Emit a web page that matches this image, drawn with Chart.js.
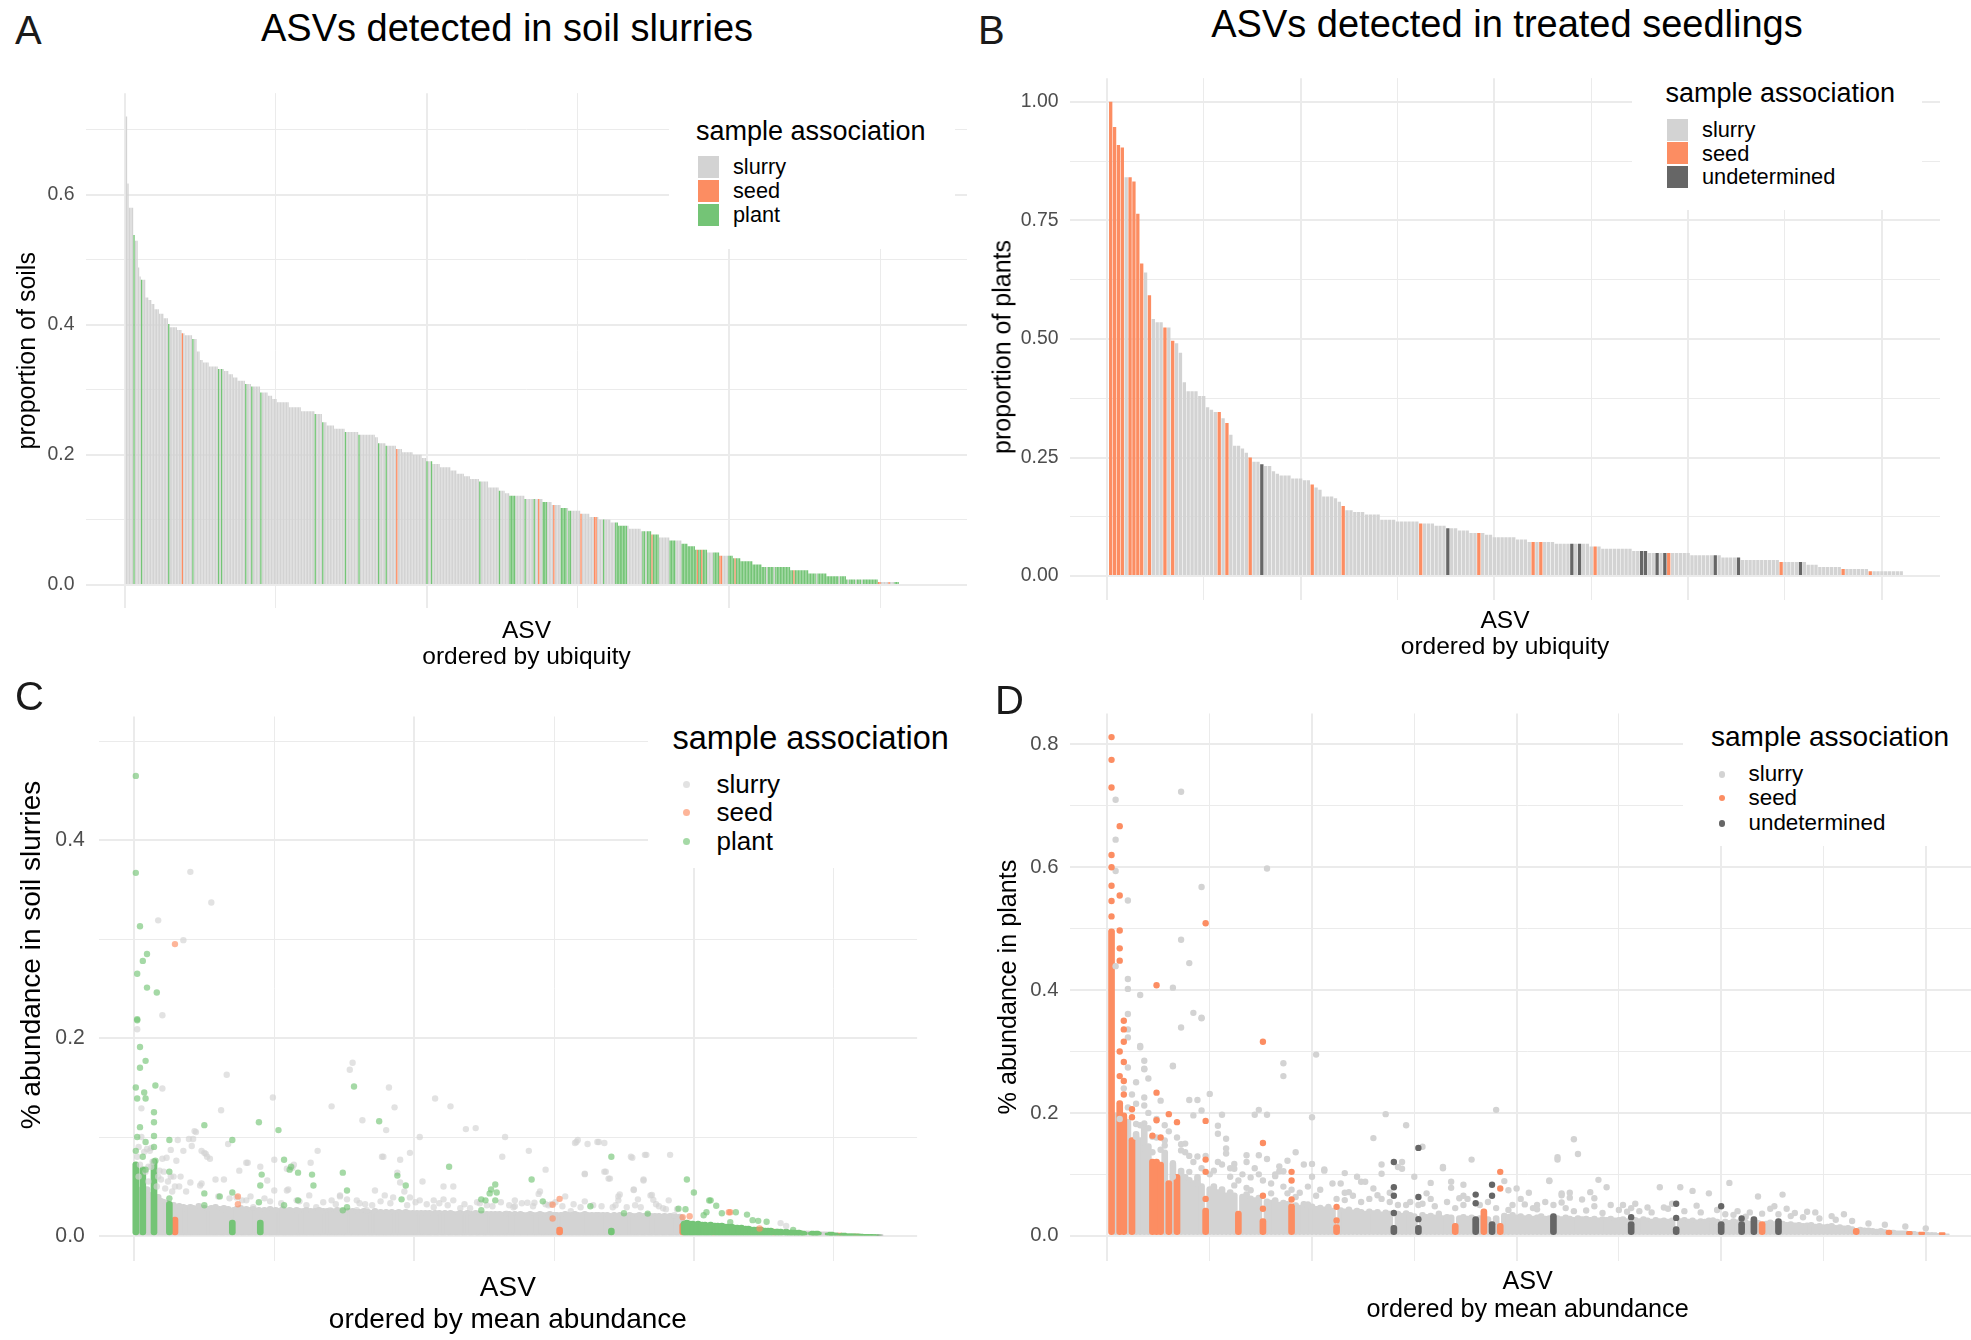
<!DOCTYPE html>
<html>
<head>
<meta charset="utf-8">
<title>ASVs detected in soil slurries and treated seedlings</title>
<script src="https://cdn.jsdelivr.net/npm/chart.js@4.4.1/dist/chart.umd.min.js"></script>
<style>
  html, body { margin: 0; padding: 0; background: #fff; overflow: hidden; }
  body { position: relative; width: 1971px; height: 1340px; font-family: "Liberation Sans", Arial, Helvetica, sans-serif; }
  canvas { position: absolute; }
  .t { position: absolute; white-space: nowrap; line-height: 1; color: #000; }
  .vt { position: absolute; white-space: nowrap; line-height: 1; color: #000; transform: translate(-50%, -50%) rotate(-90deg); }
  .letter { position: absolute; line-height: 1; font-size: 40px; color: #1a1a1a; }
  .box { position: absolute; background: #fff; }
  .key { position: absolute; width: 21px; height: 22px; }
  .dot { position: absolute; border-radius: 50%; }
</style>
</head>
<body>
<canvas id="chartA" width="985" height="610" style="left:0;top:70px"></canvas>
<canvas id="chartB" width="986" height="620" style="left:985px;top:55px"></canvas>
<canvas id="chartC" width="985" height="650" style="left:0;top:690px"></canvas>
<canvas id="chartD" width="1010" height="650" style="left:985px;top:690px"></canvas>

<div class="letter" style="left:15px;top:10px">A</div>
<div class="letter" style="left:978px;top:10px">B</div>
<div class="letter" style="left:15px;top:676px">C</div>
<div class="letter" style="left:995px;top:680px">D</div>

<div class="t" style="left:507px;top:9px;font-size:38px;transform:translateX(-50%)">ASVs detected in soil slurries</div>
<div class="t" style="left:1507px;top:5px;font-size:38px;transform:translateX(-50%)">ASVs detected in treated seedlings</div>

<!-- y-axis titles of B and C sit off the panel centre in the original -->
<div class="vt" style="left:1002px;top:346.6px;font-size:25px">proportion of plants</div>
<div class="vt" style="left:31.4px;top:955.3px;font-size:28px">% abundance in soil slurries</div>

<!-- legend A -->
<div class="box" style="left:669px;top:80px;width:286px;height:169px"></div>
<div class="t" style="left:696px;top:117.5px;font-size:27px">sample association</div>
<div class="key" style="left:698px;top:156px;background:#d3d3d3"></div>
<div class="key" style="left:698px;top:180px;background:#fc8d62"></div>
<div class="key" style="left:698px;top:204px;background:#74c476"></div>
<div class="t" style="left:733px;top:156.3px;font-size:21.7px">slurry</div>
<div class="t" style="left:733px;top:180.3px;font-size:21.7px">seed</div>
<div class="t" style="left:733px;top:204.2px;font-size:21.7px">plant</div>

<!-- legend B -->
<div class="box" style="left:1632px;top:60px;width:290px;height:150px"></div>
<div class="t" style="left:1665.5px;top:79.5px;font-size:27px">sample association</div>
<div class="key" style="left:1667px;top:118.5px;background:#d3d3d3"></div>
<div class="key" style="left:1667px;top:142.4px;background:#fc8d62"></div>
<div class="key" style="left:1667px;top:166.2px;background:#666666"></div>
<div class="t" style="left:1702px;top:118.6px;font-size:21.8px">slurry</div>
<div class="t" style="left:1702px;top:142.5px;font-size:21.8px">seed</div>
<div class="t" style="left:1702px;top:166.3px;font-size:21.8px">undetermined</div>

<!-- legend C -->
<div class="box" style="left:648px;top:700px;width:320px;height:168px"></div>
<div class="t" style="left:672.5px;top:721.8px;font-size:32.5px">sample association</div>
<div class="dot" style="left:682.5px;top:780.9px;width:7px;height:7px;background:rgba(211,211,211,0.65)"></div>
<div class="dot" style="left:682.5px;top:808.5px;width:7px;height:7px;background:rgba(252,141,98,0.65)"></div>
<div class="dot" style="left:682.5px;top:837.5px;width:7px;height:7px;background:rgba(116,196,118,0.65)"></div>
<div class="t" style="left:716.5px;top:771.4px;font-size:26px">slurry</div>
<div class="t" style="left:716.5px;top:799px;font-size:26px">seed</div>
<div class="t" style="left:716.5px;top:828px;font-size:26px">plant</div>

<!-- legend D -->
<div class="box" style="left:1683px;top:700px;width:288px;height:146px"></div>
<div class="t" style="left:1711px;top:722.6px;font-size:28px">sample association</div>
<div class="dot" style="left:1718.7px;top:771px;width:6.6px;height:6.6px;background:#d3d3d3"></div>
<div class="dot" style="left:1718.7px;top:794.9px;width:6.6px;height:6.6px;background:#fc8d62"></div>
<div class="dot" style="left:1718.7px;top:820px;width:6.6px;height:6.6px;background:#666666"></div>
<div class="t" style="left:1748.5px;top:763.1px;font-size:22.4px">slurry</div>
<div class="t" style="left:1748.5px;top:787px;font-size:22.4px">seed</div>
<div class="t" style="left:1748.5px;top:812.1px;font-size:22.4px">undetermined</div>

<script>
'use strict';

// class codes: s = slurry, e = seed, p = plant, u = undetermined
const COLORS = { s: '#d3d3d3', e: '#fc8d62', p: '#74c476', u: '#666666' };
const SOFT = { s: 'rgba(211,211,211,0.65)', e: 'rgba(252,141,98,0.65)', p: 'rgba(116,196,118,0.65)' };
const NAMES = { s: 'slurry', e: 'seed', p: 'plant', u: 'undetermined' };

// ---- panel A: proportion of soils, one bar per ASV (value, classes of consecutive ASVs)
const soilPropRuns = [
  [.72,'s'],[.617,'s'],[.58,'sss'],[.538,'p'],[.529,'ss'],[.488,'s'],[.474,'s'],[.469,'pss'],
  [.442,'ss'],[.438,'ss'],[.432,'ss'],[.424,'sss'],[.417,'sss'],[.41,'sss'],[.401,'p'],
  [.396,'sssss'],[.392,'sss'],[.387,'es'],[.384,'sssss'],[.378,'pss'],[.359,'ss'],[.346,'ss'],
  [.342,'ssss'],[.336,'ssssss'],[.332,'psps'],[.329,'sss'],[.324,'sss'],[.319,'sss'],[.314,'sssss'],
  [.309,'psss'],[.305,'psssss'],[.296,'pssss'],[.291,'sss'],[.286,'sss'],[.281,'ssssssss'],
  [.273,'ssssssss'],[.267,'sssssssss'],[.263,'pssss'],[.25,'pss'],[.245,'sssss'],[.24,'sssssss'],
  [.235,'pssssssss'],[.231,'pssssssssss'],[.227,'ss'],[.218,'pssss'],[.214,'pssssss'],[.209,'esss'],
  [.204,'sssssss'],[.2,'ssssss'],[.195,'sss'],[.19,'pssp'],[.186,'sssss'],[.181,'sssssss'],
  [.176,'ssss'],[.171,'sssss'],[.167,'ssss'],[.163,'ssssss'],[.159,'psssss'],[.15,'sssssss'],
  [.145,'psss'],[.141,'sss'],[.137,'ppppssssss'],[.132,'pssssspssess'],[.1275,'pppsss'],
  [.123,'sessss'],[.1185,'pppps'],[.114,'ppssssss'],[.1095,'esssss'],[.1045,'sssees'],
  [.1005,'ssspssss'],[.096,'ssspp'],[.091,'pppppps'],[.0865,'ssssssss'],[.0825,'sppsppp'],
  [.0775,'epppp'],[.073,'sssssss'],[.0685,'ppppssss'],[.0635,'pppp'],[.0595,'ppppp'],
  [.054,'peppeppp'],[.05,'sssspppp'],[.045,'eessssppp'],[.041,'peppp'],[.0365,'pppppppp'],
  [.0315,'pppppp'],[.0275,'pppsppppspppppppppp'],[.0225,'ppeppppppppp'],[.0175,'pppppspppppp'],
  [.0135,'ppppppppspppp'],[.0085,'psppppspppspppppppppp'],[.0045,'eesssssesssppp']
];

// ---- panel B: proportion of plants
const plantPropRuns = [
  [1,'e'],[.947,'e'],[.909,'e'],[.904,'e'],[.841,'se'],[.832,'e'],[.764,'e'],[.659,'e'],[.64,'s'],
  [.592,'e'],[.542,'s'],[.535,'ss'],[.524,'es'],[.496,'e'],[.491,'s'],[.471,'s'],[.409,'s'],
  [.39,'sss'],[.38,'ss'],[.356,'s'],[.351,'s'],[.346,'se'],[.333,'s'],[.323,'e'],[.298,'s'],
  [.275,'ss'],[.269,'s'],[.26,'s'],[.25,'e'],[.241,'ss'],[.236,'u'],[.232,'ss'],[.221,'s'],
  [.216,'s'],[.212,'sss'],[.206,'sss'],[.202,'ss'],[.193,'e'],[.187,'s'],[.182,'s'],[.168,'sss'],
  [.164,'s'],[.157,'s'],[.148,'e'],[.139,'ss'],[.135,'sss'],[.13,'ssss'],[.119,'ssss'],
  [.115,'ssssss'],[.111,'esss'],[.106,'sss'],[.101,'uss'],[.096,'sss'],[.091,'sses'],
  [.087,'ss'],[.082,'ssssss'],[.077,'sss'],[.072,'sesesss'],[.068,'ssssususs'],[.0625,'ses'],
  [.0577,'ssssssss'],[.053,'ssuu'],[.0488,'ssusuesssss'],[.044,'ssssssus'],[.039,'ssssu'],
  [.034,'ssssssssss'],[.0295,'essssus'],[.024,'sss'],[.019,'ssssss'],[.015,'essssss'],
  [.0103,'essssssss']
];

// ---- panel C: % abundance in soil slurries
// class of each ASV in mean-abundance order, as [class, count]
const soilClassRuns = [
  ['p',1],['s',4],['p',1],['s',7],['p',1],['s',10],['p',1],['s',3],['e',1],['s',40],['p',1],['s',19],
  ['p',1],['s',213],['e',1],['s',36],['p',1],['s',50],['e',1],['p',21],['e',1],['p',42],['e',1],['p',6],
  ['s',1],['p',15],['s',4],['p',6],['s',6],['p',6],['s',1],['p',1],['e',1],['p',11],['e',1],['p',16],['u',1]
];
// top of the dense core of samples for each ASV
const soilCoreTop = [
  .075,.05,.045,.048,.042,.07,.045,.04,.05,.042, .038,.044,.04,.078,.04,.036,.042,.035,.038,.034,
  .037,.033,.036,.032,.035,.033,.03,.034,.019,.031, .029,.033,.03,.028,.032,.029,.031,.027,.03,.032,
  .028,.031,.029,.027,.03,.033,.028,.03,.027,.031, .029,.026,.03,.028,.031,.027,.029,.032,.028,.026,
  .03,.028,.027,.031,.029,.026,.03,.028,.027,.016, .029,.027,.03,.026,.028,.031,.027,.029,.026,.03,
  .028,.026,.029,.027,.03,.026,.028,.027,.029,.016, .028,.026,.029,.027,.025,.028,.03,.026,.028,.027,
  .029,.026,.028,.025,.027,.03,.026,.028,.025,.027, .029,.026,.028,.027,.025,.029,.026,.028,.027,.025,
  .028,.026,.029,.025,.027,.028,.026,.025,.028,.027, .026,.029,.025,.027,.028,.026,.025,.028,.027,.026,
  .028,.025,.027,.026,.029,.025,.027,.026,.028,.025, .027,.026,.028,.025,.026,.028,.025,.027,.026,.024,
  .027,.025,.026,.028,.024,.026,.027,.025,.026,.024, .026,.028,.025,.026,.024,.027,.025,.026,.024,.027,
  .025,.026,.024,.027,.025,.024,.026,.025,.027,.024, .026,.024,.025,.027,.024,.026,.025,.024,.026,.025,
  .024,.026,.025,.023,.026,.024,.025,.026,.023,.025, .026,.024,.025,.023,.026,.025,.024,.026,.023,.025,
  .024,.026,.023,.025,.024,.026,.023,.025,.024,.023, .025,.024,.026,.023,.024,.025,.023,.026,.024,.023,
  .025,.023,.024,.026,.023,.025,.024,.022,.025,.024, .023,.025,.024,.022,.025,.023,.024,.025,.022,.024,
  .025,.023,.024,.022,.025,.024,.023,.025,.022,.024, .023,.025,.022,.024,.023,.025,.022,.024,.023,.022,
  .024,.023,.025,.022,.024,.023,.022,.024,.023,.025, .022,.024,.023,.022,.024,.023,.025,.022,.023,.024,
  .022,.024,.023,.009,.024,.022,.023,.025,.022,.024, .023,.022,.024,.023,.025,.022,.024,.023,.022,.024,
  .023,.025,.022,.024,.023,.022,.024,.023,.022,.024, .022,.024,.023,.021,.024,.022,.023,.024,.021,.023,
  .008,.022,.024,.021,.023,.022,.024,.021,.023,.022, .021,.023,.022,.024,.021,.023,.022,.021,.023,.022,
  .024,.021,.022,.023,.021,.022,.024,.021,.023,.022, .021,.023,.022,.021,.023,.022,.02,.022,.023,.021,
  .022,.02,.023,.021,.022,.02,.022,.021,.02,.022, .021,.013,.015,.014,.016,.014,.015,.013,.015,.014,
  .014,.013,.015,.014,.013,.014,.012,.014,.013,.012, .013,.014,.012,.012,.013,.012,.013,.011,.012,.013,
  .011,.012,.011,.012,.01,.011,.012,.01,.011,.01, .011,.01,.009,.011,.01,.009,.01,.009,.01,.009,
  .009,.008,.009,.008,.009,.008,.008,.009,.008,.007, .008,.007,.008,.007,.008,.007,.007,.006,.007,.007,
  .006,.007,.006,.006,.006,.007,.006,.005,.006,.006, .005,.006,.005,.005,.006,.005,.005,.005,.004,.005,
  .005,.004,.005,.004,.005,.004,.004,.005,.004,.004, .004,.004,.003,.004,.004,.003,.003,.004,.003,.003,
  .003,.003,.002,.003,.002,.002,.003,.002,.002,.002, .002,.002,.002,.002,.002,.002,.002,.0015,.002,.0015,
  .0015,.0015,.0015,.001,.0015,.0015,.001,.0015,.001,.001, .001,.001,.001
];
// single samples standing out above the core: [ASV rank, abundance]
const soilSlurryPts = [
  [40,.368],[55,.337],[17,.319],[35,.299],[20,.223],[2,.209],[66,.163],[156,.175],[154,.168],[20,.149],
  [99,.14],[182,.15],[215,.139],[141,.131],[186,.13],[226,.131],[62,.127],[5,.129],[163,.117],[180,.107],
  [237,.108],[244,.109],[204,.1],[265,.1],[316,.095],[324,.093],[332,.095],[336,.094],[44,.105],[39,.098],
  [31,.097],[12,.089],[50,.084],[52,.08],[355,.08],[366,.082],[383,.082],[263,.08],[282,.086],[197,.084],
  [177,.08],[294,.067],[322,.063],[336,.065],[339,.058],[364,.057],[357,.047],[206,.055],[190,.077],[126,.074],
  [113,.069],[90,.07],[81,.074],[75,.066],[35,.086],[26,.087],[23,.079],[19,.057],[28,.06],[58,.057],
  [48,.053],[110,.047],[172,.046],[221,.05],[228,.05],[290,.045],[308,.04],[346,.04],[369,.041],[147,.041],
  [165,.032],[214,.036],[245,.034],[272,.036],[298,.032],[373,.032],[380,.027],
  [43,.106],[42,.098],[41,.091],[67,.093],[48,.086],[51,.083],[54,.078],[30,.076],[20,.078],[11,.086],
  [131,.086],[178,.08],[80,.074],[100,.077],[109,.068],[114,.072],[188,.064],[190,.054],[33,.06],[40,.054],
  [47,.051],[64,.057],[95,.056],[100,.046],[109,.046],[125,.041],[141,.036],[147,.04],[159,.036],[179,.041],
  [185,.039],[193,.045],[197,.039],[204,.036],[221,.037],[228,.036],[240,.028],[252,.031],[271,.029],[73,.039],
  [80,.036],[85,.029],[116,.036],[130,.029],[140,.026],[159,.026],[166,.026],[214,.029],[233,.028],
  [315,.094],[317,.097],[331,.095],[356,.079],[365,.082],[322,.0625],[337,.065],[340,.058],[364,.056],[357,.0465],
  [289,.0425],[281,.0336],[286,.0336],[294,.032],[312,.025],[322,.035],[347,.042],[360,.037],[370,.0415],[371,.0365],
  [382,.036],[346,.036],[342,.029],[272,.03],[266,.0226],[386,.021],[462,.013],[466,.01],
  [3,.06],[4,.072],[8,.065],[10,.055],[12,.07],[16,.05],[18,.066],[22,.048],[24,.055],[27,.045],[29,.05],[2,.08],[9,.088],
  [105,.033],[118,.035],[123,.031],[135,.034],[144,.032],[152,.037],[161,.033],[170,.031],[176,.035],[183,.033],
  [195,.031],[201,.034],[209,.032],[218,.033],[224,.031],[236,.032],[247,.033],[256,.03],[262,.034],[268,.031],
  [277,.033],[285,.03],[296,.031],[301,.034],[306,.03],[314,.032],[319,.029],[328,.031],[334,.03],[344,.031],
  [352,.029],[358,.031],[362,.029],[375,.03],[378,.028],[388,.027],[60,.04],[68,.038],[77,.036],[83,.04],
  [93,.038],[97,.035],[5,.1],[7,.085],[13,.075],[3,.09],[10,.07],[17,.06],[21,.065],[26,.06],[32,.05],[37,.045]
];
const soilSeedPts = [
  [29,.295],[74,.04],[74,.032],[299,.0316],[304,.0375],[299,.0176],[392,.019],[397,.02],[426,.024],[447,.0076],[425,.024]
];
const soilPlantPts = [
  [1,.465],[1,.367],[4,.313],[9,.285],[6,.278],[2,.265],[9,.251],[16,.246],[2,.219],[2,.218],
  [4,.191],[8,.177],[4,.17],[1,.15],[15,.152],[7,.145],[2,.139],[8,.139],[14,.125],[50,.112],
  [14,.101],[89,.115],[103,.107],[70,.097],[25,.097],[157,.151],[175,.116],[225,.07],[341,.08],[395,.057],
  [400,.044],[412,.036],[258,.052],[284,.057],[149,.064],[188,.061],[127,.062],[128,.051],[112,.07],[107,.077],
  [90,.051],[91,.062],[254,.043],[251,.036],[194,.051],[326,.03],
  [25,.065],[25,.038],[111,.067],[117,.064],[152,.046],[152,.029],[149,.026],[191,.037],[255,.047],[259,.044],
  [248,.037],[258,.036],[89,.034],[70,.044],[50,.043],[50,.031],[61,.04],[107,.031],[117,.036],[248,.026],
  [1,.086],[6,.08],[14,.09],[2,.1],[4,.11],[14,.115],[8,.095],[15,.076],[8,.067],
  [292,.035],[350,.023],[367,.0226],[411,.0359],[416,.0306],[420,.023],[430,.024],[438,.0216],[446,.0153],[452,.0143],
  [389,.0276],[394,.027],[407,.021],[409,.024],[426,.014],[471,.006],[442,.016]
];

// ---- panel D: % abundance in plants
const plantClassRuns = [
  ['e',1],['s',1],['e',2],['s',1],['e',1],['s',4],['e',3],['s',1],['e',1],['s',1],['e',1],['s',6],
  ['e',1],['s',7],['e',1],['s',5],['e',1],['s',6],['e',1],['s',10],['e',1],['s',13],['u',1],['s',5],
  ['u',1],['s',8],['e',1],['s',4],['u',1],['s',1],['e',1],['s',1],['u',1],['s',1],['e',1],['s',12],
  ['u',1],['s',18],['u',1],['s',10],['u',1],['s',10],['u',1],['s',4],['u',1],['s',2],['u',1],['s',1],
  ['e',1],['s',3],['u',1],['s',18],['e',1],['s',7],['e',1],['s',4],['e',1],['s',2],['e',1],['s',4],
  ['e',1],['s',1]
];
const plantCoreTop = [
  .5,.2,.22,.2,.19,.16,.17,.16,.18,.15, .125,.125,.12,.14,.09,.12,.1,.11,.1,.095,
  .09,.1,.085,.045,.08,.085,.075,.08,.07,.075, .07,.04,.068,.072,.065,.062,.066,.028,.06,.058,
  .062,.055,.058,.056,.052,.054,.05,.056,.05,.052, .048,.05,.047,.049,.045,.018,.046,.044,.047,.042,
  .045,.043,.04,.044,.041,.043,.039,.042,.04,.017, .04,.037,.041,.038,.036,.017,.038,.035,.037,.034,
  .036,.033,.035,.034,.02,.033,.035,.032,.034,.031, .033,.044,.031,.023,.033,.02,.037,.035,.038,.034,
  .036,.033,.035,.032,.034,.036,.032,.033,.036,.033, .031,.034,.032,.03,.033,.031,.032,.03,.032,.029,
  .031,.03,.032,.029,.03,.031,.028,.023,.03,.028, .031,.029,.027,.03,.028,.029,.027,.029,.015,.028,
  .03,.027,.029,.026,.028,.027,.029,.026,.027,.023, .027,.025,.028,.026,.023,.026,.024,.031,.025,.023,
  .024,.026,.023,.028,.024,.022,.023,.021,.022,.02, .021,.022,.019,.02,.018,.019,.02,.017,.018,.016,
  .017,.015,.012,.014,.013,.013,.012,.011,.012,.01, .009,.009,.008,.008,.008,.007,.007,.006,.006,.006,
  .005,.005,.004,.005,.003
];
const plantSlurryPts = [
  [2,.71],[18,.723],[2,.645],[2,.594],[39,.598],[23,.568],[5,.546],[18,.482],[20,.444],[2,.439],
  [5,.418],[5,.402],[16,.404],[8,.392],[21,.363],[23,.354],[18,.339],[5,.361],[8,.307],[51,.295],
  [9,.285],[16,.276],[9,.272],[43,.281],[43,.26],[10,.256],[20,.221],[22,.221],[25,.231],[37,.205],
  [39,.197],[50,.193],[68,.198],[73,.18],[95,.205],[77,.145],[114,.157],[115,.133],[65,.159],[89,.124],
  [110,.128],[82,.11],[28,.197],[46,.136],[42,.105],[50,.117],[53,.108],[58,.102],[62,.088],[72,.12],
  [79,.086],[84,.088],[87,.083],[100,.077],[103,.07],[108,.09],[111,.069],[113,.062],[118,.071],[120,.091],
  [122,.079],[126,.05],[129,.052],[135,.079],[140,.079],[143,.073],[147,.069],[152,.086],[159,.064],[162,.044],
  [165,.067],[168,.037],[173,.038],[177,.032],[180,.035],
  [5,.336],[5,.323],[23,.355],[8,.309],[5,.274],[9,.271],[16,.277],[9,.225],[9,.212],[23,.204],
  [21,.196],[36,.197],[5,.209],[7,.215],[9,.183],[8,.18],[11,.161],[14,.155],[14,.147],[18,.149],
  [18,.139],[19,.136],[22,.129],[27,.179],[27,.166],[29,.158],[29,.142],[29,.134],[31,.117],[28,.116],
  [26,.106],[34,.131],[34,.12],[31,.109],[30,.096],[31,.082],[26,.079],[37,.131],[37,.1],[39,.125],
  [41,.097],[42,.113],[43,.105],[44,.122],[48,.116],[53,.106],[50,.096],[46,.063],[55,.085],[57,.085],
  [59,.071],[61,.096],[63,.088],[65,.077],[66,.066],[67,.116],[67,.101],[72,.109],[71,.112],[75,.096],
  [78,.069],[82,.112],[84,.078],[87,.065],[97,.089],[98,.042],[77,.052],[81,.036],[86,.061],[87,.05],
  [73,.05],[69,.055],[58,.058],[54,.047],[49,.051],[44,.069],[40,.069],[35,.074],[34,.078],[22,.085],
  [20,.104],[19,.086],[16,.118],[16,.096],[7,.161],[7,.182],[9,.142],[11,.136],
  [110,.124],[108,.089],[98,.074],[119,.061],[116,.059],[111,.066],[111,.054],[113,.07],[102,.051],[105,.05],
  [105,.043],[136,.046],[138,.052],[144,.049],[132,.046],[163,.048],[166,.044],[171,.039],[121,.037],[127,.039],
  [117,.041],[148,.025],[153,.034],[156,.031],
  [3,.19],[4,.24],[6,.23],[7,.25],[10,.2],[12,.19],[13,.22],[14,.18],[15,.17],[17,.16],
  [19,.15],[20,.13],[12,.16],[10,.175],[13,.14],[21,.12],[23,.11],[24,.13],[25,.1],[27,.12],
  [30,.11],[32,.09],[33,.1],[35,.095],[36,.11],[38,.09],[40,.085],[41,.1],[43,.08],[45,.075],
  [47,.07],[49,.08],[51,.065],[52,.075],[56,.06],[58,.07],[60,.065],[62,.055],[64,.06],[67,.06],
  [69,.07],[71,.05],[74,.055],[76,.05],[79,.06],[80,.048],[83,.055],[85,.045],[88,.06],[91,.05],
  [93,.055],[95,.045],[99,.05],[101,.06],[104,.045],[107,.055],[109,.05],[112,.045],[114,.04],[119,.048],
  [123,.05],[125,.042],[128,.045],[130,.04],[133,.038],[137,.044],[141,.04],[145,.038],[149,.042],[151,.035],
  [154,.04],[157,.038],[160,.036],[164,.035],[167,.032],[170,.03],[174,.028],[178,.026],[182,.024],[186,.02],
  [190,.018],[195,.015],[200,.012]
];
const plantSeedPts = [
  [1,.812],[1,.775],[1,.73],[1,.62],[1,.6],[1,.57],[1,.545],[1,.52],
  [3,.667],[3,.554],[3,.497],[3,.468],[3,.448],[3,.3],[3,.26],
  [4,.35],[4,.336],[4,.316],[4,.283],[4,.252],[4,.23],[6,.206],[6,.193],
  [12,.408],[12,.233],[12,.188],[11,.163],[13,.16],[15,.198],[17,.185],
  [24,.509],[24,.187],[24,.124],[24,.104],[24,.06],[38,.316],[38,.151],[38,.065],[38,.044],
  [45,.104],[45,.09],[45,.059],[56,.047],[56,.025],[96,.104],[96,.077]
];
const plantUndetPts = [
  [70,.12],[70,.079],[70,.065],[70,.037],[76,.143],[76,.063],[76,.027],[90,.067],[90,.053],
  [94,.083],[94,.065],[139,.052],[139,.029],[150,.048],[128,.03],[155,.028]
];

// ---- axis breaks
const yTicksA = [0,.1,.2,.3,.4,.5,.6,.7];
const yLabelsA = ['0.0','','0.2','','0.4','','0.6',''];
const yTicksB = [0,.125,.25,.375,.5,.625,.75,.875,1];
const yLabelsB = ['0.00','','0.25','','0.50','','0.75','','1.00'];
const yTicksC = [0,.1,.2,.3,.4,.5];
const yLabelsC = ['0.0','','0.2','','0.4',''];
const yTicksD = [0,.1,.2,.3,.4,.5,.6,.7,.8];
const yLabelsD = ['0.0','','0.2','','0.4','','0.6','','0.8'];
const xTicksSoil = [0,100,200,300,400,500];
const xTicksPlant = [0,25,50,75,100,125,150,175,200];

Chart.defaults.font.family = '"Liberation Sans", Arial, Helvetica, sans-serif';

const BAR_ORDER = { s: 20, e: 19, p: 18, u: 17 };

function barSets(by, extra) {
  return ['s', 'e', 'p', 'u'].filter(c => by[c].length).map(c => Object.assign({
    type: 'bar', label: NAMES[c], data: by[c], backgroundColor: COLORS[c], order: BAR_ORDER[c]
  }, extra));
}

// bars from [value, classes] runs
function runBars(runs, extra) {
  const by = { s: [], e: [], p: [], u: [] };
  let rank = 1;
  runs.forEach(([v, cls]) => {
    for (const c of cls) { by[c].push({ x: rank, y: v }); rank++; }
  });
  return barSets(by, extra);
}

// dense sample core of each ASV, drawn as a column of overlapping dots (a capsule)
function coreBars(tops, classRuns) {
  const by = { s: [], e: [], p: [], u: [] };
  let rank = 1;
  classRuns.forEach(([c, n]) => {
    for (let k = 0; k < n; k++) { by[c].push({ x: rank, y: [0, tops[rank - 1]] }); rank++; }
  });
  return barSets(by, { barThickness: 6, borderRadius: 3, borderSkipped: false });
}

function pointSet(pts, color, order) {
  return {
    type: 'scatter', data: pts.map(([x, y]) => ({ x: x, y: y })),
    backgroundColor: color, borderWidth: 0, pointRadius: 3.2, pointBorderWidth: 0, order: order
  };
}

function panel(id, o) {
  const majorY = o.yLabels.map((l, i) => l ? i : -1).filter(i => i >= 0);
  return new Chart(document.getElementById(id), {
    type: 'bar',
    data: { datasets: o.datasets },
    options: {
      responsive: false, animation: false, devicePixelRatio: 1, events: [],
      layout: { padding: { top: o.padTop, right: o.padRight, left: 0, bottom: 0 } },
      plugins: { legend: { display: false }, tooltip: { enabled: false } },
      datasets: { bar: { grouped: false, categoryPercentage: 1, barPercentage: o.barPct || 0.9 } },
      scales: {
        x: {
          type: 'linear', min: o.xMin, max: o.xMax, offset: false,
          afterBuildTicks: s => { s.ticks = o.xTicks.map(v => ({ value: v })); },
          afterFit: s => { s.height = o.xH; },
          ticks: { display: false },
          grid: { offset: false, color: '#ebebeb', drawTicks: false,
                  lineWidth: c => (c.index % 2 === 0 ? 2 : 1) },
          border: { display: false },
          title: { display: true, text: o.xTitle, color: '#000',
                   font: { size: o.xFs, lineHeight: o.xLh }, padding: { top: 0, bottom: o.xPb } }
        },
        y: {
          type: 'linear', min: o.yMin, max: o.yMax,
          afterBuildTicks: s => { s.ticks = o.yTicks.map(v => ({ value: v })); },
          afterFit: s => { s.width = o.yW; },
          ticks: { autoSkip: false, padding: o.tickPad, color: '#4d4d4d', font: { size: o.tickFs },
                   callback: (v, i) => o.yLabels[i] },
          grid: { color: '#ebebeb', drawTicks: false, lineWidth: c => (majorY.includes(c.index) ? 2 : 1) },
          border: { display: false },
          title: { display: !!o.yTitle, text: o.yTitle || '', color: '#000',
                   font: { size: o.yFs, lineHeight: 1.2 }, padding: { top: o.yPt, bottom: 0 } }
        }
      }
    }
  });
}

// A
panel('chartA', {
  datasets: runBars(soilPropRuns, {}),
  padTop: 10.8, padRight: 18, yW: 86, xH: 71.6,
  xMin: -25.8, xMax: 557.6, xTicks: xTicksSoil,
  yMin: -0.036, yMax: 0.756, yTicks: yTicksA, yLabels: yLabelsA,
  xTitle: ['ASV', 'ordered by ubiquity'], xFs: 24.5, xLh: 1.08, xPb: 9.3,
  yTitle: 'proportion of soils', yFs: 25, yPt: 12.7, tickPad: 11.5, tickFs: 19.4
});

// B (y title is placed in the page, see .vt)
panel('chartB', {
  datasets: runBars(plantPropRuns, {}), barPct: 0.86,
  padTop: 13.9, padRight: 31, yW: 85, xH: 75.2,
  xMin: -9.5, xMax: 215, xTicks: xTicksPlant,
  yMin: -0.05, yMax: 1.05, yTicks: yTicksB, yLabels: yLabelsB,
  xTitle: ['ASV', 'ordered by ubiquity'], xFs: 24.5, xLh: 1.08, xPb: 14.4,
  yTitle: null, tickPad: 11.5, tickFs: 19.4
});

// C (y title is placed in the page, see .vt)
panel('chartC', {
  datasets: coreBars(soilCoreTop, soilClassRuns).concat([
    pointSet(soilSlurryPts, SOFT.s, 16),
    pointSet(soilSeedPts, SOFT.e, 15),
    pointSet(soilPlantPts, SOFT.p, 14)
  ]),
  padTop: 18.4, padRight: 67.9, yW: 98.6, xH: 79.3,
  xMin: -25.6, xMax: 559.6, xTicks: xTicksSoil,
  yMin: -0.025, yMax: 0.525, yTicks: yTicksC, yLabels: yLabelsC,
  xTitle: ['ASV', 'ordered by mean abundance'], xFs: 28, xLh: 1.125, xPb: 4.3,
  yTitle: null, tickPad: 13.8, tickFs: 21.2
});

// D
panel('chartD', {
  datasets: coreBars(plantCoreTop, plantClassRuns).concat([
    pointSet(plantSlurryPts, COLORS.s, 16),
    pointSet(plantSeedPts, COLORS.e, 15),
    pointSet(plantUndetPts, COLORS.u, 14)
  ]),
  padTop: 19.7, padRight: 9.5, yW: 84.8, xH: 79.4,
  xMin: -9.2, xMax: 214.6, xTicks: xTicksPlant,
  yMin: -0.0405, yMax: 0.8505, yTicks: yTicksD, yLabels: yLabelsD,
  xTitle: ['ASV', 'ordered by mean abundance'], xFs: 25.2, xLh: 1.1, xPb: 16.3,
  yTitle: '% abundance in plants', yFs: 25.2, yPt: 9.3, tickPad: 11.3, tickFs: 20.3
});
</script>
</body>
</html>
